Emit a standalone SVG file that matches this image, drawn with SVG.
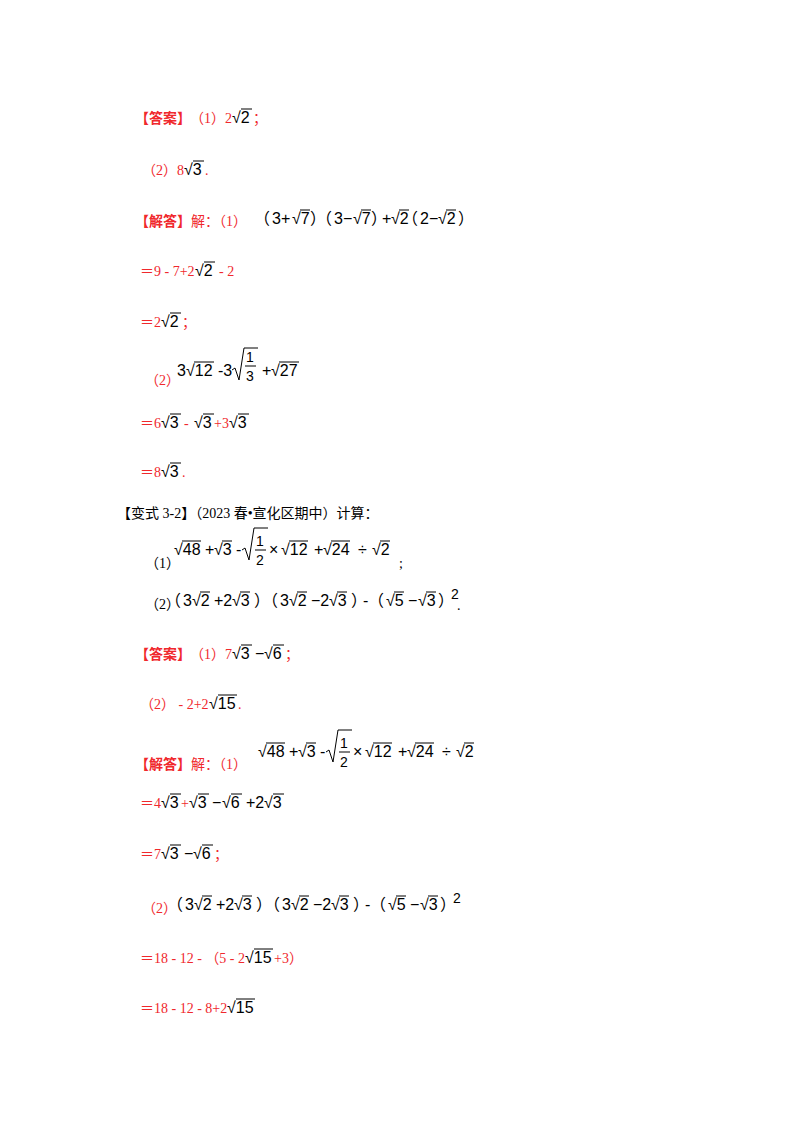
<svg xmlns="http://www.w3.org/2000/svg" width="800" height="1132" viewBox="0 0 800 1132">
<style>
.r{fill:#f0282d;font-family:"Liberation Serif","Noto Sans CJK SC",serif;font-size:14px}
.b{fill:#000;font-family:"Liberation Serif","Noto Sans CJK SC",serif;font-size:14px}
.h{font-weight:bold}
.m{fill:#000;font-family:"Liberation Sans","Noto Sans CJK SC",sans-serif;font-size:16px}
.f{fill:#000;font-family:"Liberation Sans",sans-serif;font-size:14px}
.o{stroke:#000;stroke-width:1;fill:none}
</style>
<rect width="800" height="1132" fill="#fff"/>
<g id="l1">
<text class="r h" x="135" y="123">【答案】</text>
<text class="r" x="190" y="123">（1）2</text>
<text class="m" x="232" y="123">√2</text><line class="o" x1="241" y1="109" x2="252" y2="109"/>
<text class="r" x="253" y="123">；</text>
</g>
<g id="l2">
<text class="r" x="142" y="175">（2）8</text>
<text class="m" x="184" y="175">√3</text><line class="o" x1="193" y1="161" x2="204" y2="161"/>
<text class="r" x="205" y="175">.</text>
</g>
<g id="l3">
<text class="r h" x="135" y="226">【解答】</text><text class="r" x="191" y="226">解：（1）</text>
<text class="m" x="254" y="224">（</text><text class="m" x="272" y="224">3+</text><text class="m" x="292" y="224">√7</text><line class="o" x1="300" y1="210" x2="310" y2="210"/>
<text class="m" x="310" y="224">）</text><text class="m" x="316" y="224">（</text><text class="m" x="334" y="224">3−</text><text class="m" x="353" y="224">√7</text><line class="o" x1="361" y1="210" x2="371" y2="210"/>
<text class="m" x="371" y="224">）</text><text class="m" x="382" y="224">+</text><text class="m" x="391" y="224">√2</text><line class="o" x1="399" y1="210" x2="409" y2="210"/>
<text class="m" x="402" y="224">（</text><text class="m" x="420" y="224">2−</text><text class="m" x="438" y="224">√2</text><line class="o" x1="446" y1="210" x2="456" y2="210"/><text class="m" x="458" y="224">）</text>
</g>
<g id="l4"><text class="r" x="140" y="276">＝9 - 7+2</text><text class="m" x="195" y="276">√2</text><line class="o" x1="204" y1="262" x2="215" y2="262"/><text class="r" x="219" y="276">- 2</text></g>
<g id="l5"><text class="r" x="140" y="327">＝2</text><text class="m" x="161" y="327">√2</text><line class="o" x1="170" y1="313" x2="181" y2="313"/><text class="r" x="182" y="327">；</text></g>
<g id="l6">
<text class="r" x="145" y="385">（2）</text>
<text class="m" x="177" y="376">3</text><text class="m" x="186" y="376">√12</text><line class="o" x1="194" y1="362" x2="214" y2="362"/>
<text class="m" x="218" y="376">-3</text>
<path class="o" d="M232,370 l3,-2 l4,12 l5,-32 h14"/>
<text class="f" x="246" y="362">1</text><line class="o" x1="245" y1="366" x2="256" y2="366"/><text class="f" x="246" y="381">3</text>
<text class="m" x="262" y="376">+</text><text class="m" x="271" y="376">√27</text><line class="o" x1="279" y1="362" x2="299" y2="362"/>
</g>
<g id="l7"><text class="r" x="140" y="428">＝6</text><text class="m" x="161" y="428">√3</text><line class="o" x1="170" y1="414" x2="181" y2="414"/><text class="r" x="184" y="428">-</text><text class="m" x="194" y="428">√3</text><line class="o" x1="203" y1="414" x2="214" y2="414"/><text class="r" x="214" y="428">+3</text><text class="m" x="229" y="428">√3</text><line class="o" x1="238" y1="414" x2="249" y2="414"/></g>
<g id="l8"><text class="r" x="140" y="477">＝8</text><text class="m" x="161" y="477">√3</text><line class="o" x1="170" y1="463" x2="181" y2="463"/><text class="r" x="182" y="477">.</text></g>
<g id="l9"><text class="b" x="117" y="518">【变式 3-2】（2023 春•宣化区期中）计算：</text></g>
<g id="l10">
<text class="b" x="145" y="568">（1）</text>
<text class="m" x="174" y="555">√48</text><line class="o" x1="182" y1="541" x2="201" y2="541"/>
<text class="m" x="205" y="555">+</text><text class="m" x="214" y="555">√3</text><line class="o" x1="222" y1="541" x2="232" y2="541"/>
<text class="m" x="236" y="555">-</text>
<path class="o" d="M242,550 l3,-2 l4,12 l5,-32 h14"/>
<text class="f" x="256" y="546">1</text><line class="o" x1="255" y1="550" x2="266" y2="550"/><text class="f" x="256" y="565">2</text>
<text class="m" x="269" y="555">×</text>
<text class="m" x="281" y="555">√12</text><line class="o" x1="289" y1="541" x2="308" y2="541"/>
<text class="m" x="314" y="555">+</text><text class="m" x="323" y="555">√24</text><line class="o" x1="331" y1="541" x2="350" y2="541"/>
<text class="m" x="358" y="555">÷</text><text class="m" x="372" y="555">√2</text><line class="o" x1="380" y1="541" x2="390" y2="541"/>
<text class="b" x="399" y="568">;</text>
</g>
<g id="l11">
<text class="b" x="145" y="609">（2）</text>
<text class="m" x="165" y="606">（</text><text class="m" x="183" y="606">3</text><text class="m" x="192" y="606">√2</text><line class="o" x1="200" y1="592" x2="210" y2="592"/>
<text class="m" x="214" y="606">+2</text><text class="m" x="232" y="606">√3</text><line class="o" x1="240" y1="592" x2="250" y2="592"/><text class="m" x="254" y="606">）</text>
<text class="m" x="262" y="606">（</text><text class="m" x="280" y="606">3</text><text class="m" x="289" y="606">√2</text><line class="o" x1="297" y1="592" x2="307" y2="592"/>
<text class="m" x="311" y="606">−2</text><text class="m" x="329" y="606">√3</text><line class="o" x1="337" y1="592" x2="347" y2="592"/><text class="m" x="351" y="606">）</text>
<text class="m" x="363" y="606">-</text><text class="m" x="368" y="606">（</text><text class="m" x="386" y="606">√5</text><line class="o" x1="394" y1="592" x2="404" y2="592"/>
<text class="m" x="408" y="606">−</text><text class="m" x="418" y="606">√3</text><line class="o" x1="426" y1="592" x2="436" y2="592"/><text class="m" x="438" y="606">）</text>
<text class="f" x="451" y="599" font-size="12">2</text><text class="b" x="457" y="610">.</text>
</g>
<g id="l12"><text class="r h" x="135" y="659">【答案】</text><text class="r" x="190" y="659">（1）7</text><text class="m" x="232" y="659">√3</text><line class="o" x1="241" y1="645" x2="252" y2="645"/><text class="m" x="255" y="659">−</text><text class="m" x="264" y="659">√6</text><line class="o" x1="273" y1="645" x2="284" y2="645"/><text class="r" x="285" y="659">；</text></g>
<g id="l13"><text class="r" x="140" y="709">（2） - 2+2</text><text class="m" x="209" y="709">√15</text><line class="o" x1="218" y1="695" x2="237" y2="695"/><text class="r" x="238" y="709">.</text></g>
<g id="l14">
<text class="r h" x="135" y="769">【解答】</text><text class="r" x="191" y="769">解：（1）</text>
<text class="m" x="258" y="757">√48</text><line class="o" x1="266" y1="743" x2="285" y2="743"/>
<text class="m" x="289" y="757">+</text><text class="m" x="298" y="757">√3</text><line class="o" x1="306" y1="743" x2="316" y2="743"/>
<text class="m" x="320" y="757">-</text>
<path class="o" d="M326,752 l3,-2 l4,12 l5,-32 h14"/>
<text class="f" x="340" y="748">1</text><line class="o" x1="339" y1="752" x2="350" y2="752"/><text class="f" x="340" y="767">2</text>
<text class="m" x="353" y="757">×</text>
<text class="m" x="365" y="757">√12</text><line class="o" x1="373" y1="743" x2="392" y2="743"/>
<text class="m" x="398" y="757">+</text><text class="m" x="407" y="757">√24</text><line class="o" x1="415" y1="743" x2="434" y2="743"/>
<text class="m" x="442" y="757">÷</text><text class="m" x="456" y="757">√2</text><line class="o" x1="464" y1="743" x2="474" y2="743"/>
</g>
<g id="l15"><text class="r" x="140" y="808">＝4</text><text class="m" x="161" y="808">√3</text><text class="r" x="181" y="808">+</text><text class="m" x="189" y="808">√3</text><text class="m" x="212" y="808">−</text><text class="m" x="222" y="808">√6</text><text class="m" x="246" y="808">+2</text><text class="m" x="264" y="808">√3</text>
<line class="o" x1="170" y1="794" x2="181" y2="794"/><line class="o" x1="198" y1="794" x2="209" y2="794"/><line class="o" x1="231" y1="794" x2="242" y2="794"/><line class="o" x1="273" y1="794" x2="284" y2="794"/></g>
<g id="l16"><text class="r" x="140" y="859">＝7</text><text class="m" x="161" y="859">√3</text><text class="m" x="184" y="859">−</text><text class="m" x="193" y="859">√6</text><line class="o" x1="170" y1="845" x2="181" y2="845"/><line class="o" x1="202" y1="845" x2="213" y2="845"/><text class="r" x="214" y="859">；</text></g>
<g id="l17">
<text class="r" x="142" y="913">（2）</text>
<text class="m" x="167" y="910">（</text><text class="m" x="185" y="910">3</text><text class="m" x="194" y="910">√2</text><line class="o" x1="202" y1="896" x2="212" y2="896"/>
<text class="m" x="216" y="910">+2</text><text class="m" x="234" y="910">√3</text><line class="o" x1="242" y1="896" x2="252" y2="896"/><text class="m" x="256" y="910">）</text>
<text class="m" x="264" y="910">（</text><text class="m" x="282" y="910">3</text><text class="m" x="291" y="910">√2</text><line class="o" x1="299" y1="896" x2="309" y2="896"/>
<text class="m" x="313" y="910">−2</text><text class="m" x="331" y="910">√3</text><line class="o" x1="339" y1="896" x2="349" y2="896"/><text class="m" x="353" y="910">）</text>
<text class="m" x="365" y="910">-</text><text class="m" x="370" y="910">（</text><text class="m" x="388" y="910">√5</text><line class="o" x1="396" y1="896" x2="406" y2="896"/>
<text class="m" x="410" y="910">−</text><text class="m" x="420" y="910">√3</text><line class="o" x1="428" y1="896" x2="438" y2="896"/><text class="m" x="440" y="910">）</text>
<text class="f" x="453" y="903" font-size="12">2</text>
</g>
<g id="l18"><text class="r" x="140" y="963">＝18 - 12 - （5 - 2</text><text class="m" x="245" y="963">√15</text><line class="o" x1="254" y1="949" x2="273" y2="949"/><text class="r" x="274" y="963">+3）</text></g>
<g id="l19"><text class="r" x="140" y="1013">＝18 - 12 - 8+2</text><text class="m" x="227" y="1013">√15</text><line class="o" x1="236" y1="999" x2="255" y2="999"/></g>
</svg>
